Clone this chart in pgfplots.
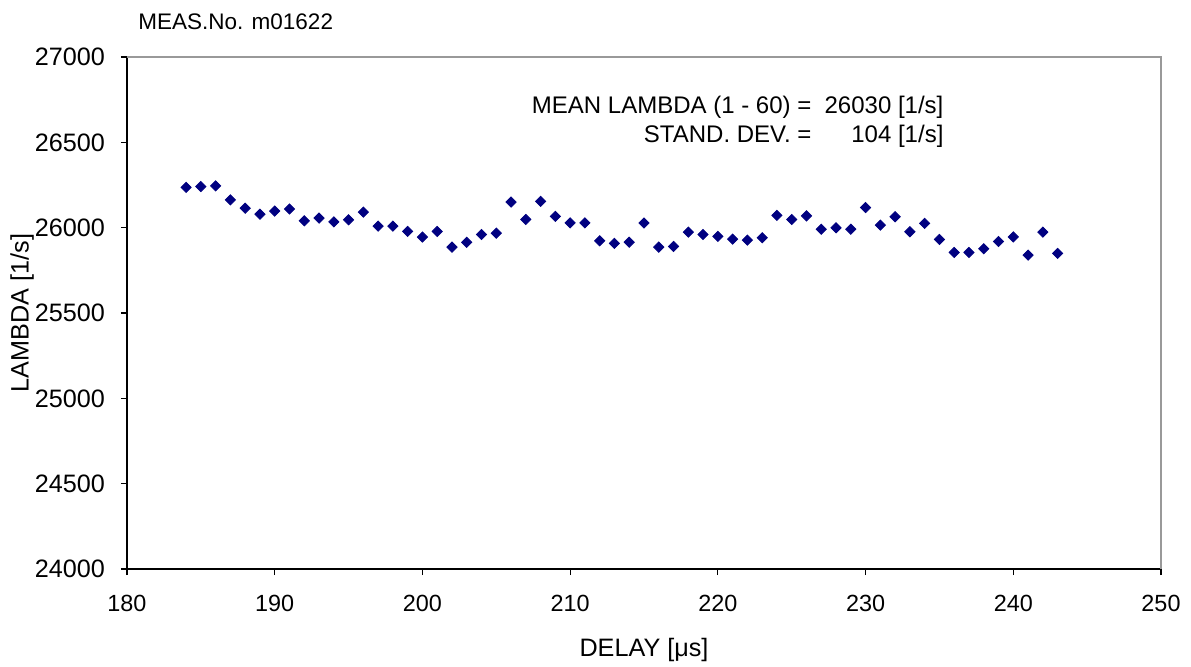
\documentclass[border=0pt]{standalone}
\usepackage{fontspec}
\setmainfont{Liberation Sans}
\usepackage{pgfplots}
\pgfplotsset{compat=1.18}
\definecolor{navy}{RGB}{0,0,128}
\begin{document}
\fontsize{11.5}{14}\selectfont
\begin{tikzpicture}
\begin{axis}[
  scale only axis, width=517pt, height=256pt,
  xmin=180, xmax=250, ymin=24000, ymax=27000,
  xtick={180,190,...,250}, ytick={24000,24500,...,27000},
  scaled y ticks=false, scaled x ticks=false,
  axis x line*=bottom, axis y line*=left,
  axis line style={black, line width=0.6pt},
  tick align=outside, major tick length=3pt,
  tick style={black, line width=0.6pt},
  /pgf/number format/1000 sep={},
  /pgf/number format/assume math mode=true,
  xticklabel style={yshift=-6pt, font=\fontsize{11.7}{14}\selectfont},
  yticklabel style={xshift=-4pt, font=\fontsize{12.6}{14}\selectfont},
  xlabel={DELAY [μs]}, ylabel={LAMBDA [1/s]},
  xlabel style={at={([yshift=-40.5pt]axis description cs:0.5,0)}, anchor=center, font=\fontsize{12.6}{14}\selectfont},
  ylabel style={at={([xshift=-52.5pt]axis description cs:0,0.5)}, anchor=center, rotate=0, font=\fontsize{12.6}{14}\selectfont},
  clip=false,
]
\draw[gray!80, line width=0.6pt] (rel axis cs:0,1) -- (rel axis cs:1,1) -- (rel axis cs:1,0);
\addplot[only marks, mark=square*, mark size=1.8pt, mark options={rotate=45, fill=navy, draw=navy}] coordinates {
(184,26236) (185,26241) (186,26245) (187,26163) (188,26114) (189,26079) (190,26097) (191,26109)
(192,26040) (193,26056) (194,26034) (195,26046) (196,26091) (197,26009) (198,26009) (199,25978)
(200,25945) (201,25978) (202,25886) (203,25914) (204,25960) (205,25968) (206,26150) (207,26048)
(208,26154) (209,26066) (210,26028) (211,26028) (212,25923) (213,25908) (214,25915) (215,26027)
(216,25886) (217,25890) (218,25974) (219,25960) (220,25949) (221,25933) (222,25927) (223,25941)
(224,26072) (225,26048) (226,26069) (227,25991) (228,25999) (229,25991) (230,26118) (231,26015)
(232,26064) (233,25976) (234,26025) (235,25931) (236,25855) (237,25855) (238,25876) (239,25919)
(240,25946) (241,25839) (242,25974) (243,25849)
};
\node[anchor=north east, inner sep=0pt, font=\fontsize{12}{14.5}\selectfont] at (rel axis cs:0.790,0.930)
  {\begin{tabular}{@{}r@{\ \ }r@{}}MEAN LAMBDA (1 - 60) =& 26030 [1/s]\\ STAND. DEV. =& 104 [1/s]\end{tabular}};
\node[anchor=base west, inner sep=0pt, font=\fontsize{11.25}{12}\selectfont] at ([yshift=14pt]rel axis cs:0.0106,1) {MEAS.No. m01622};
\coordinate (bl) at (rel axis cs:0,0);
\coordinate (tr) at (rel axis cs:1,1);
\end{axis}
\pgfresetboundingbox
\path ([shift={(-63.5pt,-48.5pt)}]bl) rectangle ([shift={(15pt,28.5pt)}]tr);
\end{tikzpicture}
\end{document}
